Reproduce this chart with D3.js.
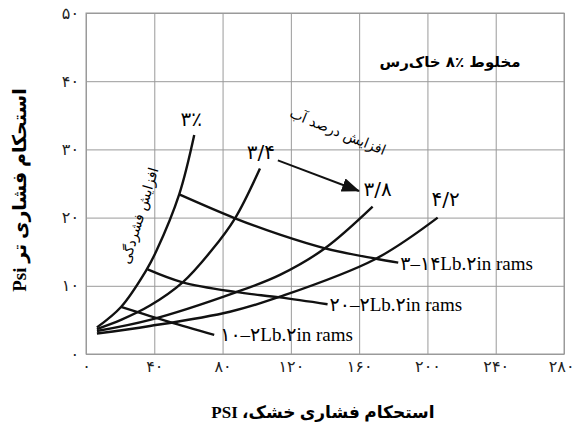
<!DOCTYPE html>
<html>
<head>
<meta charset="utf-8">
<script src="https://cdn.jsdelivr.net/npm/d3@7"></script>
<style>
  body { margin: 0; background: #fff; }
  svg { display: block; }
  .grid line { stroke: #9a9a9a; stroke-width: 1; }
  .grid path { stroke: #9a9a9a; }
  .tick text { font-family: "DejaVu Sans", sans-serif; font-size: 16px; fill: #222; }
</style>
</head>
<body>
<svg id="chart" width="574" height="426"></svg>
<script>
// ticks
var xTicks = [0, 40, 80, 120, 160, 200, 240, 280];
var yTicks = [0, 10, 20, 30, 40, 50];

// moisture curves (dry psi, wet psi)
var moistureNames = ["۳٪", "۳/۴", "۳/۸", "۴/۲"];
var curve30 = [[6.4, 3.9], [20.5, 6.9], [35.1, 12.2], [41.4, 15.2], [54.6, 23.4], [63.4, 32.1]];
var curve34 = [[6.4, 3.66], [20.5, 5.0], [37.5, 7.1], [56.6, 10.5], [73.6, 15.2], [87.3, 19.9], [101.9, 27.2]];
var curve38 = [[6.4, 3.37], [37.5, 5.0], [87.3, 9.0], [113.6, 11.6], [140, 15.5], [167.9, 21.6]];
var curve42 = [[6.4, 3.0], [37.5, 4.1], [84.3, 6.2], [113.6, 8.4], [169.3, 13.9], [206, 20.0]];

// compaction lines
var rammingNames = ["۳–۱۴Lb.۲in rams", "۲۰–۲Lb.۲in rams", "۱۰–۲Lb.۲in rams"];
var ram3x14 = [[54.6, 23.4], [87.3, 19.9], [113.6, 17.5], [140, 15.5], [169.3, 14.0], [182.9, 13.4]];
var ram20x2 = [[36.1, 12.4], [56.6, 10.5], [87.3, 9.1], [113.6, 8.3], [141.5, 7.3]];
var ram10x2 = [[20.5, 6.9], [48.8, 4.7], [75.1, 2.8]];

var titleText = "مخلوط ٪۸ خاک‌رس";
var xTitle = "استحکام فشاری خشک، PSI";
var yTitle = "استحکام فشاری تر Psi";
var moreWater = "افزایش درصد آب";
var moreCompaction = "افزایش فشردگی";

var fa = function(d) { return String(d).replace(/\d/g, function(c) { return "۰۱۲۳۴۵۶۷۸۹"[+c]; }); };

var svg = d3.select("#chart");
var pL = 86, pR = 564, pT = 13, pB = 354;

var x = d3.scaleLinear().domain([0, 280]).range([pL, pR]);
var y = d3.scaleLinear().domain([0, 50]).range([pB, pT]);

// grid + axes
var xAxis = svg.append("g")
  .attr("class", "grid")
  .attr("transform", "translate(0," + pB + ")")
  .call(d3.axisBottom(x).tickValues(xTicks).tickSize(-(pB - pT)).tickSizeOuter(0).tickPadding(7).tickFormat(fa));

// last label sits against the right edge
xAxis.selectAll(".tick text")
  .filter(function(d) { return d === 280; })
  .attr("text-anchor", "end")
  .attr("x", 10);

svg.append("g")
  .attr("class", "grid")
  .attr("transform", "translate(" + pL + ",0)")
  .call(d3.axisLeft(y).tickValues(yTicks).tickSize(-(pR - pL)).tickSizeOuter(0).tickPadding(7).tickFormat(fa));

svg.append("rect")
  .attr("x", pL).attr("y", pT)
  .attr("width", pR - pL).attr("height", pB - pT)
  .attr("fill", "none").attr("stroke", "#9a9a9a");

var line = d3.line()
  .x(function(d) { return x(d[0]); })
  .y(function(d) { return y(d[1]); })
  .curve(d3.curveCatmullRom.alpha(0.5));

var moisture = [curve30, curve34, curve38, curve42];
var ramming = [ram3x14, ram20x2, ram10x2];

svg.selectAll(".moist")
  .data(moisture).enter()
  .append("path")
  .attr("class", "moist")
  .attr("d", line)
  .attr("fill", "none")
  .attr("stroke", "#111")
  .attr("stroke-width", 2.4);

svg.selectAll(".ram")
  .data(ramming).enter()
  .append("path")
  .attr("class", "ram")
  .attr("d", line)
  .attr("fill", "none")
  .attr("stroke", "#111")
  .attr("stroke-width", 2.4);

// moisture labels at the top of each curve
var moistOffset = [[-3, -9], [1, -9], [5, -11], [8, -12]];
svg.selectAll(".mlabel")
  .data(moisture).enter()
  .append("text")
  .attr("class", "mlabel")
  .attr("x", function(d, i) { return x(d[d.length - 1][0]) + moistOffset[i][0]; })
  .attr("y", function(d, i) { return y(d[d.length - 1][1]) + moistOffset[i][1]; })
  .attr("text-anchor", "middle")
  .style("font-family", "DejaVu Sans, sans-serif")
  .style("font-size", "20px")
  .text(function(d, i) { return moistureNames[i]; });

// ramming labels after the end of each line
var ramOffset = [[2, 7], [2, 7], [6, 6]];
svg.selectAll(".rlabel")
  .data(ramming).enter()
  .append("text")
  .attr("class", "rlabel")
  .attr("x", function(d, i) { return x(d[d.length - 1][0]) + ramOffset[i][0]; })
  .attr("y", function(d, i) { return y(d[d.length - 1][1]) + ramOffset[i][1]; })
  .style("font-family", "Liberation Serif, DejaVu Sans, serif")
  .style("font-size", "19px")
  .text(function(d, i) { return rammingNames[i]; });

// arrow
svg.append("defs").append("marker")
  .attr("id", "head")
  .attr("markerUnits", "userSpaceOnUse")
  .attr("markerWidth", 18).attr("markerHeight", 14)
  .attr("refX", 17).attr("refY", 7)
  .attr("orient", "auto")
  .append("path")
  .attr("d", "M0,0 L18,7 L0,14 Z")
  .attr("fill", "#111");

var arrowFrom = [112.4, 28.4], arrowTo = [159.9, 23.9];
svg.append("line")
  .attr("x1", x(arrowFrom[0])).attr("y1", y(arrowFrom[1]))
  .attr("x2", x(arrowTo[0])).attr("y2", y(arrowTo[1]))
  .attr("stroke", "#111").attr("stroke-width", 2)
  .attr("marker-end", "url(#head)");

svg.append("text")
  .attr("transform", "translate(336,136) rotate(22)")
  .attr("text-anchor", "middle")
  .attr("direction", "rtl")
  .style("font-family", "DejaVu Sans, sans-serif")
  .style("font-size", "14px")
  .text(moreWater);

svg.append("text")
  .attr("transform", "translate(144,217) rotate(-73)")
  .attr("text-anchor", "middle")
  .attr("direction", "rtl")
  .style("font-family", "DejaVu Sans, sans-serif")
  .style("font-size", "14px")
  .text(moreCompaction);

// titles
svg.append("text")
  .attr("x", 450).attr("y", 67)
  .attr("text-anchor", "middle")
  .attr("direction", "rtl")
  .style("font-family", "DejaVu Sans, sans-serif")
  .style("font-weight", "bold")
  .style("font-size", "15px")
  .text(titleText);

svg.append("text")
  .attr("x", 323).attr("y", 418)
  .attr("text-anchor", "middle")
  .attr("direction", "rtl")
  .style("font-family", "Liberation Serif, DejaVu Sans, serif")
  .style("font-weight", "bold")
  .style("font-size", "17px")
  .text(xTitle);

svg.append("text")
  .attr("transform", "translate(26,190) rotate(-90)")
  .attr("text-anchor", "middle")
  .attr("direction", "rtl")
  .style("font-family", "Liberation Serif, DejaVu Sans, serif")
  .style("font-weight", "bold")
  .style("font-size", "19px")
  .text(yTitle);
</script>
</body>
</html>
